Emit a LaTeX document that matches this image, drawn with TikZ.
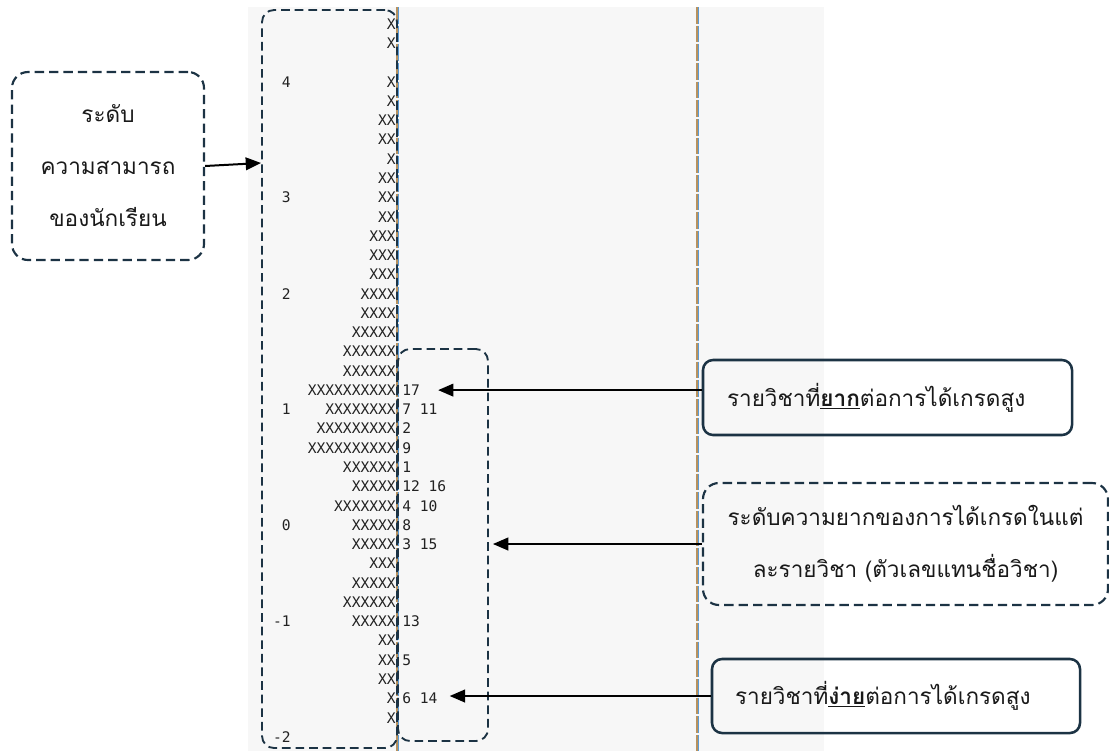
\documentclass[tikz,border=0pt]{standalone}
\usepackage{fontspec}
\usetikzlibrary{arrows.meta,calc}
\newfontfamily\thaifont[Script=Thai]{Loma}
\newfontfamily\mapfont{DejaVu Sans Mono}
\definecolor{navy}{HTML}{1C3344}
\definecolor{panel}{HTML}{F7F7F7}
\definecolor{axisblue}{HTML}{5B9BD5}
\definecolor{axisbrown}{HTML}{B8925E}
\definecolor{maptext}{HTML}{222222}
% one row of the person-item map: row index, logit label, persons, items
\newcommand\maprow[4]{%
  \node[maplab] (lab#1) at (291,{29.3+19.27*#1}) {#2};
  \node[mapxs]  (xs#1)  at (396,{29.3+19.27*#1}) {#3};
  \node[mapit]  (it#1)  at (402,{29.3+19.27*#1}) {#4};
}
\begin{document}
\begin{tikzpicture}[x=0.75pt,y=-0.75pt,
  thaitext/.style={font=\thaifont\fontsize{16.9}{39}\selectfont, text=black!90},
  solidnote/.style={thaitext, draw=navy, line width=1.9pt, rounded corners=7.5pt,
    align=left, inner ysep=0pt},
  dashnote/.style={thaitext, draw=navy, line width=1.6pt,
    dash pattern=on 7pt off 3.8pt, rounded corners=12pt, align=center, inner sep=0pt},
  frame/.style={draw=navy, line width=1.4pt, dash pattern=on 6.5pt off 3.7pt,
    rounded corners=9pt, inner sep=0pt},
  arr/.style={-{Triangle[length=11.5pt,width=9.5pt]}, line width=1.5pt, black},
  maptxt/.style={font=\mapfont\fontsize{10.95}{13}\selectfont, text=maptext, inner sep=0pt},
  maplab/.style={maptxt, anchor=base east},
  mapxs/.style={maptxt, anchor=base east},
  mapit/.style={maptxt, anchor=base west},
  axisline/.style={line width=1.5pt, dash pattern=on 12.5pt off 1.5pt}
]
\useasboundingbox (0,0) rectangle (1109,751);

% output panel
\fill[panel] (248,7) rectangle (824,751);

% separator lines of the map
\foreach \xx in {397,697}{
  \draw[axisline, axisbrown] (\xx,7) -- (\xx,751);
  \draw[axisline, axisblue, line width=0.8pt] ({\xx+1.5},7) -- ({\xx+1.5},751);
}

% person-item map
\maprow{0}{}{X}{}
\maprow{1}{}{X}{}
\maprow{2}{}{}{}
\maprow{3}{4}{X}{}
\maprow{4}{}{X}{}
\maprow{5}{}{XX}{}
\maprow{6}{}{XX}{}
\maprow{7}{}{X}{}
\maprow{8}{}{XX}{}
\maprow{9}{3}{XX}{}
\maprow{10}{}{XX}{}
\maprow{11}{}{XXX}{}
\maprow{12}{}{XXX}{}
\maprow{13}{}{XXX}{}
\maprow{14}{2}{XXXX}{}
\maprow{15}{}{XXXX}{}
\maprow{16}{}{XXXXX}{}
\maprow{17}{}{XXXXXX}{}
\maprow{18}{}{XXXXXX}{}
\maprow{19}{}{XXXXXXXXXX}{17}
\maprow{20}{1}{XXXXXXXX}{7 11}
\maprow{21}{}{XXXXXXXXX}{2}
\maprow{22}{}{XXXXXXXXXX}{9}
\maprow{23}{}{XXXXXX}{1}
\maprow{24}{}{XXXXX}{12 16}
\maprow{25}{}{XXXXXXX}{4 10}
\maprow{26}{0}{XXXXX}{8}
\maprow{27}{}{XXXXX}{3 15}
\maprow{28}{}{XXX}{}
\maprow{29}{}{XXXXX}{}
\maprow{30}{}{XXXXXX}{}
\maprow{31}{-1}{XXXXX}{13}
\maprow{32}{}{XX}{}
\maprow{33}{}{XX}{5}
\maprow{34}{}{XX}{}
\maprow{35}{}{X}{6 14}
\maprow{36}{}{X}{}
\maprow{37}{-2}{}{}

% dashed frames around the two columns
\node[frame, minimum width=101.25pt, minimum height=553.5pt] (personcol) at (329.5,379) {};
\node[frame, minimum width=67.5pt, minimum height=294pt] (itemcol) at (443,545) {};

% callout boxes
\node[dashnote, minimum width=144pt, minimum height=141pt] (ability) at (108,166)
  {ระดับ\\ความสามารถ\\ของนักเรียน};
\node[solidnote, minimum height=56.25pt, text width=240.75pt, inner xsep=18pt] (hard) at (887.5,397.5)
  {รายวิชาที่\underline{\textbf{ยาก}}ต่อการได้เกรดสูง};
\node[dashnote, minimum width=303.75pt, minimum height=91.5pt] (level) at (905.5,544)
  {ระดับความยากของการได้เกรดในแต่\\ละรายวิชา (ตัวเลขแทนชื่อวิชา)};
\node[solidnote, minimum height=55.5pt, text width=241.5pt, inner xsep=17.25pt] (easy) at (896,696)
  {รายวิชาที่\underline{\textbf{ง่าย}}ต่อการได้เกรดสูง};

% arrows
\draw[arr] (ability.east) -- ($(ability.east -| personcol.west)+(0,-3)$);
\draw[arr] (hard.west |- it19) -- ($(it19.east |- it19)+(18,0)$);
\draw[arr] (level.west) -- ($(itemcol.east |- level.west)+(4,0)$);
\draw[arr] (easy.west) -- ($(it35.east |- easy.west)+(12,0)$);
\end{tikzpicture}
\end{document}
